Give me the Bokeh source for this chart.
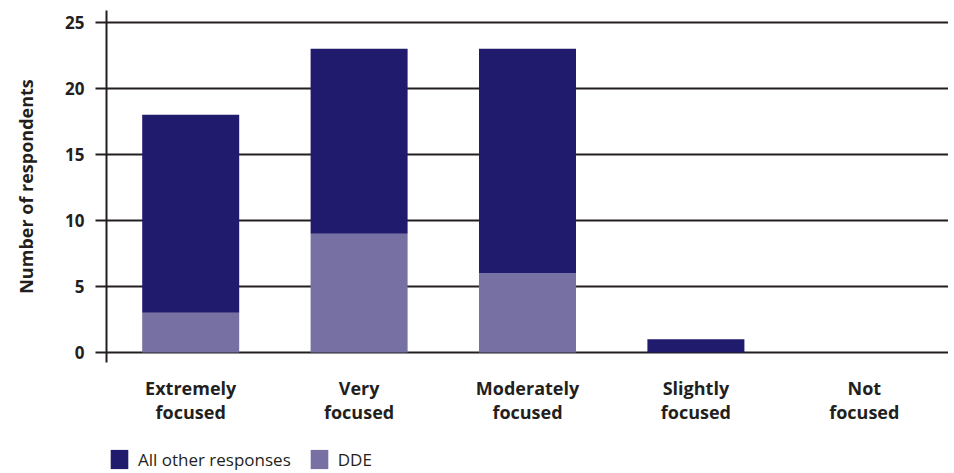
from bokeh.plotting import figure
from bokeh.layouts import column
from bokeh.models import Range1d, FactorRange, Legend, LegendItem, FixedTicker, ColumnDataSource
from bokeh.embed import file_html
from bokeh.resources import INLINE

categories = ["Extremely\nfocused", "Very\nfocused", "Moderately\nfocused", "Slightly\nfocused", "Not\nfocused"]
dde = [3, 9, 6, 0, 0]
other = [15, 14, 17, 1, 0]
y_ticks = [0, 5, 10, 15, 20, 25]
series_names = ["All other responses", "DDE"]

DARK = "#201b6c"
LIGHT = "#7670a3"
INK = "#231f20"
FONT = "Open Sans"

source = ColumnDataSource(dict(cat=categories, dde=dde, other=other))

p = figure(width=948, height=440,
           x_range=FactorRange(*categories, range_padding=0),
           y_range=Range1d(-0.76, 25.9),
           output_backend="svg", toolbar_location=None,
           min_border_left=106, min_border_right=0, min_border_top=10, min_border_bottom=78)
p.outline_line_color = None
p.background_fill_color = "white"
p.border_fill_color = "white"

rs = p.vbar_stack(["dde", "other"], x="cat", width=0.576, color=[LIGHT, DARK],
                  line_color=None, source=source)

# grid
p.xgrid.grid_line_color = None
p.ygrid.ticker = FixedTicker(ticks=y_ticks)
p.ygrid.grid_line_color = INK
p.ygrid.grid_line_width = 2

# y axis
p.yaxis.ticker = FixedTicker(ticks=y_ticks)
p.yaxis.axis_line_color = INK
p.yaxis.axis_line_width = 2
p.yaxis.major_tick_line_color = INK
p.yaxis.major_tick_line_width = 2
p.yaxis.major_tick_out = 11
p.yaxis.major_tick_in = 0
p.yaxis.minor_tick_line_color = None
p.yaxis.major_label_standoff = 11
p.yaxis.major_label_text_font = FONT
p.yaxis.major_label_text_font_style = "bold"
p.yaxis.major_label_text_font_size = "17px"
p.yaxis.major_label_text_color = INK
p.yaxis.axis_label = "Number of respondents"
p.yaxis.axis_label_text_font = FONT
p.yaxis.axis_label_text_font_style = "bold"
p.yaxis.axis_label_text_font_size = "18px"
p.yaxis.axis_label_text_color = INK
p.yaxis.axis_label_standoff = 24

# x axis
p.xaxis.axis_line_color = None
p.xaxis.major_tick_line_color = None
p.xaxis.minor_tick_line_color = None
p.xaxis.major_label_standoff = 7
p.xaxis.major_label_text_font = FONT
p.xaxis.major_label_text_font_style = "bold"
p.xaxis.major_label_text_font_size = "18px"
p.xaxis.major_label_text_color = INK
p.xaxis.major_label_text_line_height = 1.0

# legend strip below the chart (bars here fall outside its y range, only the legend shows)
pl = figure(width=948, height=33, x_range=p.x_range, y_range=Range1d(100, 101),
            x_axis_location=None, y_axis_location=None,
            output_backend="svg", toolbar_location=None, min_border=0)
pl.outline_line_color = None
pl.grid.visible = False
pl.background_fill_color = "white"
pl.border_fill_color = "white"
rl = pl.vbar_stack(["dde", "other"], x="cat", width=0.576, color=[LIGHT, DARK],
                   line_color=None, source=source)

legend = Legend(items=[LegendItem(label=series_names[0], renderers=[rl[1]]),
                       LegendItem(label=series_names[1], renderers=[rl[0]])],
                orientation="horizontal", location=(2, 2),
                padding=0, margin=0, spacing=17, label_standoff=8,
                glyph_width=22, glyph_height=24, label_height=24,
                border_line_color=None, background_fill_alpha=0,
                label_text_font=FONT, label_text_font_size="17px", label_text_color=INK)
pl.add_layout(legend, "center")

layout = column(p, pl, spacing=0)
open("out.html", "w").write(file_html(layout, INLINE))
